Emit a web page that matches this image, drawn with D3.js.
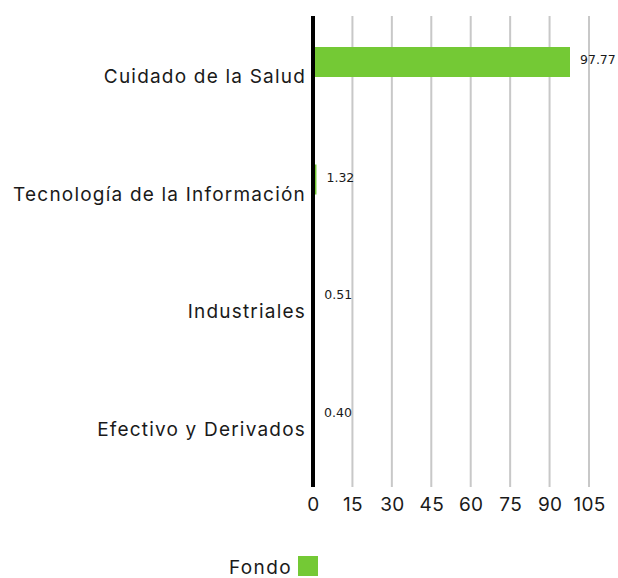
<!DOCTYPE html>
<html>
<head>
<meta charset="utf-8">
<script src="https://cdn.jsdelivr.net/npm/d3@7"></script>
<style>
  body { margin: 0; background: #fff; }
  svg text { fill: #1a1a1a; }
</style>
</head>
<body>
<div id="chart"></div>
<script>
// sector weights
var categories = ["Cuidado de la Salud", "Tecnología de la Información", "Industriales", "Efectivo y Derivados"];
var values = [97.77, 1.32, 0.51, 0.40];
var valueLabels = ["97.77", "1.32", "0.51", "0.40"];
var tickValues = [0, 15, 30, 45, 60, 75, 90, 105];
var seriesName = "Fondo";

var margin = {top: 16, right: 29, bottom: 92, left: 313},
  width = 618 - margin.left - margin.right,
  height = 578 - margin.top - margin.bottom;

var green = "#74c935";
var mainFont = "Inter, 'Noto Sans', sans-serif";
var valFont = "'DejaVu Sans', Verdana, sans-serif";

var svg = d3.select("#chart").append("svg")
  .attr("width", 618)
  .attr("height", 578);

var g = svg.append("g")
  .attr("transform", "translate(" + margin.left + "," + margin.top + ")");

var x = d3.scaleLinear()
  .domain([0, 105])
  .range([0, 276]);

var y = d3.scaleBand()
  .domain(categories)
  .range([0, height]);

// gridlines
g.selectAll(".grid")
  .data(tickValues.slice(1))
  .enter().append("line")
    .attr("class", "grid")
    .attr("x1", function(d) { return x(d); })
    .attr("x2", function(d) { return x(d); })
    .attr("y1", 0)
    .attr("y2", height + 1)
    .attr("stroke", "#c8c8c8")
    .attr("stroke-width", 2);

// x tick labels
var xAxis = g.append("g")
  .attr("transform", "translate(0," + height + ")")
  .call(d3.axisBottom(x).tickValues(tickValues).tickSize(0).tickPadding(12));
xAxis.select(".domain").remove();
xAxis.selectAll("text")
  .attr("font-family", mainFont)
  .attr("font-size", 19)
  .attr("letter-spacing", 0.3)
  .attr("fill", "#1a1a1a");

// category labels
g.selectAll(".cat")
  .data(categories)
  .enter().append("text")
    .attr("class", "cat")
    .attr("x", -7)
    .attr("y", function(d) { return y(d) + y.bandwidth() / 2 + 2; })
    .attr("dy", "0.35em")
    .attr("text-anchor", "end")
    .attr("font-family", mainFont)
    .attr("font-size", 19)
    .attr("letter-spacing", 1.2)
    .text(function(d) { return d; });

// bars
g.selectAll(".bar")
  .data(values)
  .enter().append("rect")
    .attr("class", "bar")
    .attr("x", x(0))
    .attr("y", function(d, i) { return y(categories[i]) + 31; })
    .attr("width", function(d) { return x(d) - x(0); })
    .attr("height", 30)
    .attr("fill", green);

// value labels
g.selectAll(".val")
  .data(values)
  .enter().append("text")
    .attr("class", "val")
    .attr("x", function(d) { return x(d) + 10; })
    .attr("y", function(d, i) { return y(categories[i]) + 44; })
    .attr("dy", "0.35em")
    .attr("font-family", valFont)
    .attr("font-size", 12.5)
    .text(function(d, i) { return valueLabels[i]; });

// zero axis line
g.append("line")
  .attr("x1", x(0)).attr("x2", x(0))
  .attr("y1", 0).attr("y2", height + 1)
  .attr("stroke", "#000")
  .attr("stroke-width", 4);

// legend
var legend = svg.append("g").attr("transform", "translate(298,556)");
legend.append("rect")
  .attr("width", 20).attr("height", 20)
  .attr("fill", green);
legend.append("text")
  .attr("x", -6).attr("y", 11)
  .attr("dy", "0.35em")
  .attr("text-anchor", "end")
  .attr("font-family", mainFont)
  .attr("font-size", 19)
  .attr("letter-spacing", 1.4)
  .text(seriesName);
</script>
</body>
</html>
